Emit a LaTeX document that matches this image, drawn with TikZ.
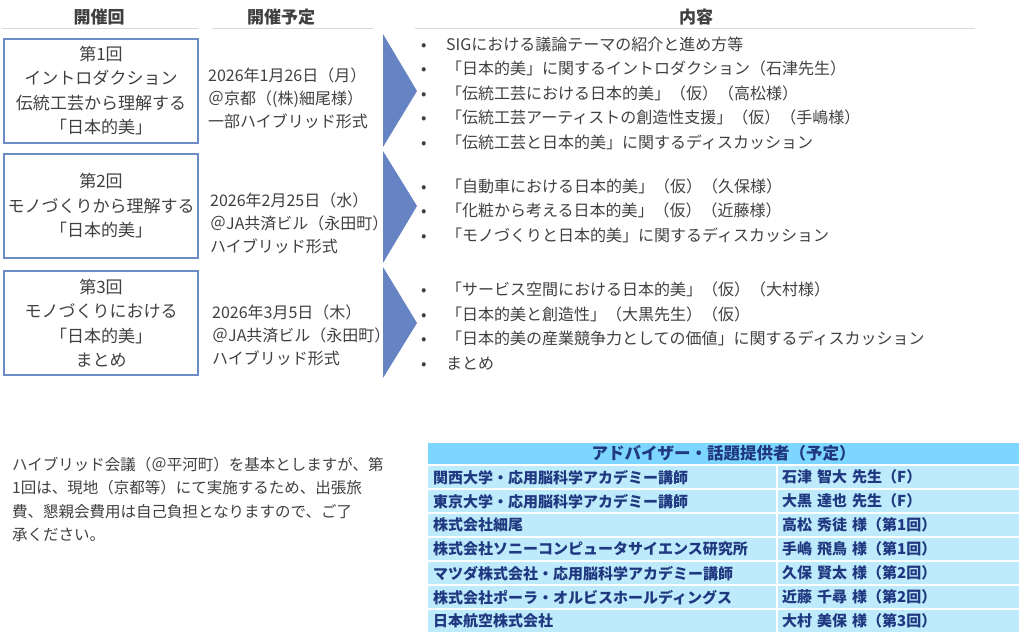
\documentclass[tikz,border=0pt]{standalone}
\usepackage{fontspec}
\setmainfont{Noto Sans CJK JP}
\usepackage{tikz}

\definecolor{boxblue}{RGB}{108,140,198}
\definecolor{arrowblue}{RGB}{102,132,196}
\definecolor{textgray}{RGB}{64,64,64}
\definecolor{rulegray}{RGB}{217,217,217}
\definecolor{headblue}{RGB}{125,214,255}
\definecolor{rowblue}{RGB}{190,235,251}
\definecolor{navy}{RGB}{32,56,128}

\newcommand{\bitem}{\makebox[25pt][l]{\textbullet}}

\tikzset{
  headtext/.style={text=textgray, inner sep=0pt, font={\fontsize{17}{20}\selectfont\bfseries}},
  headrule/.style={draw=rulegray, line width=1pt},
  sessionbox/.style={draw=boxblue, line width=2pt, minimum width=194pt, minimum height=104pt,
    align=center, text=textgray, inner sep=0pt, font={\fontsize{17}{24.5}\selectfont}},
  datetext/.style={anchor=west, align=left, text=textgray, inner sep=0pt, font={\fontsize{16}{23}\selectfont}},
  itemtext/.style={anchor=west, align=left, text=textgray, inner sep=0pt, font={\fontsize{16}{24.5}\selectfont}},
  chevron/.style={fill=arrowblue},
  advhead/.style={fill=headblue, anchor=north west, minimum width=591pt, minimum height=21pt,
    inner sep=0pt, text=navy, font={\fontsize{16.5}{18}\selectfont\bfseries}},
  orgcell/.style={fill=rowblue, anchor=north west, text width=338pt, inner xsep=5pt, inner ysep=0pt,
    minimum height=22pt, align=left, text=navy, font={\fontsize{15}{17}\selectfont\bfseries}},
  namecell/.style={orgcell, text width=233pt, inner xsep=4pt},
  notetext/.style={anchor=west, align=left, text=textgray, inner sep=0pt, font={\fontsize{15.5}{23.3}\selectfont}},
}

\begin{document}
\begin{tikzpicture}[x=1pt,y=-1pt]
\useasboundingbox (0,0) rectangle (1024,643);

% column headers
\node[headtext] (hround) at (99,17) {開催回};
\node[headtext] (hdate) at (281,17) {開催予定};
\node[headtext] (hcontent) at (696,17) {内容};
\draw[headrule] (2,28) -- (198,28);
\draw[headrule] (212,28) -- (373,28);
\draw[headrule] (415,28) -- (975,28);

% sessions
\node[sessionbox] (s1) at (101,90.5) {第1回\\イントロダクション\\伝統工芸から理解する\\「日本的美」};
\node[sessionbox] (s2) at (101,206) {第2回\\モノづくりから理解する\\「日本的美」};
\node[sessionbox] (s3) at (101,323) {第3回\\モノづくりにおける\\「日本的美」\\まとめ};

\node[datetext] (d1) at (208,98) {2026年1月26日（月）\\＠京都（(株)細尾様）\\一部ハイブリッド形式};
\node[datetext] (d2) at (210,223) {2026年2月25日（水）\\＠JA共済ビル（永田町）\\ハイブリッド形式};
\node[datetext] (d3) at (212,335) {2026年3月5日（木）\\＠JA共済ビル（永田町）\\ハイブリッド形式};

\fill[chevron] (383,34) -- (417,91) -- (383,147) -- cycle;
\fill[chevron] (383,151) -- (417,206) -- (383,263) -- cycle;
\fill[chevron] (383,267) -- (417,323) -- (383,378) -- cycle;

\node[itemtext] (c1) at (421,93) {\bitem SIGにおける議論テーマの紹介と進め方等\\
  \bitem 「日本的美」に関するイントロダクション（石津先生）\\
  \bitem 「伝統工芸における日本的美」（仮）（高松様）\\
  \bitem 「伝統工芸アーティストの創造性支援」（仮）（手嶋様）\\
  \bitem 「伝統工芸と日本的美」に関するディスカッション};
\node[itemtext] (c2) at (421,210.5) {\bitem 「自動車における日本的美」（仮）（久保様）\\
  \bitem 「化粧から考える日本的美」（仮）（近藤様）\\
  \bitem 「モノづくりと日本的美」に関するディスカッション};
\node[itemtext] (c3) at (421,326) {\bitem 「サービス空間における日本的美」（仮）（大村様）\\
  \bitem 「日本的美と創造性」（大黒先生）（仮）\\
  \bitem 「日本的美の産業競争力としての価値」に関するディスカッション\\
  \bitem まとめ};

% note
\node[notetext] (note) at (12,499.5) {ハイブリッド会議（＠平河町）を基本としますが、第\\
  1回は、現地（京都等）にて実施するため、出張旅\\
  費、懇親会費用は自己負担となりますので、ご了\\
  承ください。};

% advisers
\node[advhead] (adv) at (428,443) {アドバイザー・話題提供者（予定）};
\node[orgcell] (org1) at (428,466) {関西大学・応用脳科学アカデミー講師};
\node[orgcell] (org2) at (428,490) {東京大学・応用脳科学アカデミー講師};
\node[orgcell] (org3) at (428,514) {株式会社細尾};
\node[orgcell] (org4) at (428,538) {株式会社ソニーコンピュータサイエンス研究所};
\node[orgcell] (org5) at (428,562) {マツダ株式会社・応用脳科学アカデミー講師};
\node[orgcell] (org6) at (428,586) {株式会社ポーラ・オルビスホールディングス};
\node[orgcell] (org7) at (428,610) {日本航空株式会社};
\node[namecell] (name1) at (778,466) {石津 智大 先生（F）};
\node[namecell] (name2) at (778,490) {大黒 達也 先生（F）};
\node[namecell] (name3) at (778,514) {高松 秀徒 様（第1回）};
\node[namecell] (name4) at (778,538) {手嶋 飛鳥 様（第1回）};
\node[namecell] (name5) at (778,562) {久保 賢太 様（第2回）};
\node[namecell] (name6) at (778,586) {近藤 千尋 様（第2回）};
\node[namecell] (name7) at (778,610) {大村 美保 様（第3回）};
\end{tikzpicture}
\end{document}
